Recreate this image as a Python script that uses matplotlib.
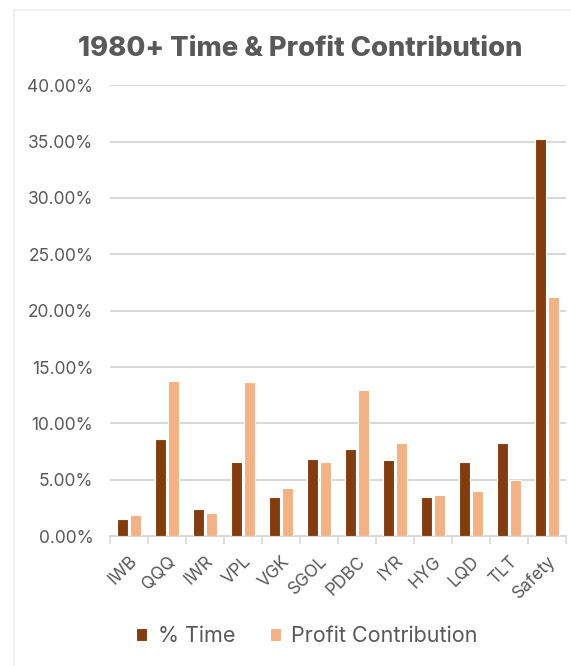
import matplotlib.pyplot as plt
import numpy as np
from matplotlib.lines import Line2D

# Data
tickers = ['IWB', 'QQQ', 'IWR', 'VPL', 'VGK', 'SGOL', 'PDBC', 'IYR', 'HYG', 'LQD', 'TLT', 'Safety']
pct_time = [1.55, 8.65, 2.45, 6.55, 3.45, 6.85, 7.75, 6.75, 3.45, 6.55, 8.3, 35.25]
profit_contrib = [1.9, 13.8, 2.05, 13.65, 4.3, 6.55, 12.95, 8.3, 3.65, 4.0, 5.0, 21.25]
yticks = [0, 5, 10, 15, 20, 25, 30, 35, 40]

dark = '#843C0C'
light = '#F4B183'
text_gray = '#595959'
grid_gray = '#D9D9D9'


def plot_contribution():
    fig = plt.figure(figsize=(5.71, 6.66), dpi=100)
    ax = fig.add_axes([0.1926, 0.195, 0.7985, 0.677])

    x = np.arange(len(tickers))
    w = 0.29
    off = 0.17
    ax.bar(x - off, pct_time, w, color=dark, edgecolor='white', linewidth=0.8,
           label='% Time', zorder=3)
    ax.bar(x + off, profit_contrib, w, color=light, edgecolor='white', linewidth=0.8,
           label='Profit Contribution', zorder=3)

    ax.set_ylim(0, 40)
    ax.set_xlim(-0.5, len(tickers) - 0.5)
    ax.set_yticks(yticks)
    ax.set_yticklabels(['%.2f%%' % v for v in yticks])
    ax.yaxis.grid(True, color=grid_gray, linewidth=1.5, zorder=0)
    ax.tick_params(axis='y', length=0, pad=12, labelsize=12.5, labelcolor=text_gray)

    # category ticks at boundaries
    ax.set_xticks(x)
    ax.set_xticklabels(tickers, rotation=45, ha='right', rotation_mode='anchor')
    ax.tick_params(axis='x', length=0, pad=12, labelsize=12.5, labelcolor=text_gray)
    ax.set_xticks(np.arange(len(tickers) + 1) - 0.5, minor=True)
    ax.tick_params(axis='x', which='minor', length=6, width=1.2, color=grid_gray)

    for s in ['top', 'right', 'left']:
        ax.spines[s].set_visible(False)
    ax.spines['bottom'].set_color(grid_gray)
    ax.spines['bottom'].set_linewidth(1.5)

    fig.text(0.525, 0.927, '1980+ Time & Profit Contribution', ha='center', va='center',
             fontsize=19.7, fontweight='heavy', color=text_gray)

    fig.legend(loc='center', bbox_to_anchor=(0.538, 0.045), ncol=2, frameon=False,
               fontsize=15.5, handlelength=0.5, handleheight=0.5, handletextpad=0.5,
               columnspacing=1.6, labelcolor=text_gray)

    # light card border on left and top
    fig.add_artist(Line2D([0.025, 0.025], [0, 0.985], color='#F0F0F0', linewidth=1.5,
                          transform=fig.transFigure))
    fig.add_artist(Line2D([0.025, 1], [0.985, 0.985], color='#F0F0F0', linewidth=1.5,
                          transform=fig.transFigure))

    plt.savefig('out.png', dpi=100)


if __name__ == "__main__":
    plt.rcParams['font.family'] = ['Inter', 'DejaVu Sans']
    plot_contribution()
